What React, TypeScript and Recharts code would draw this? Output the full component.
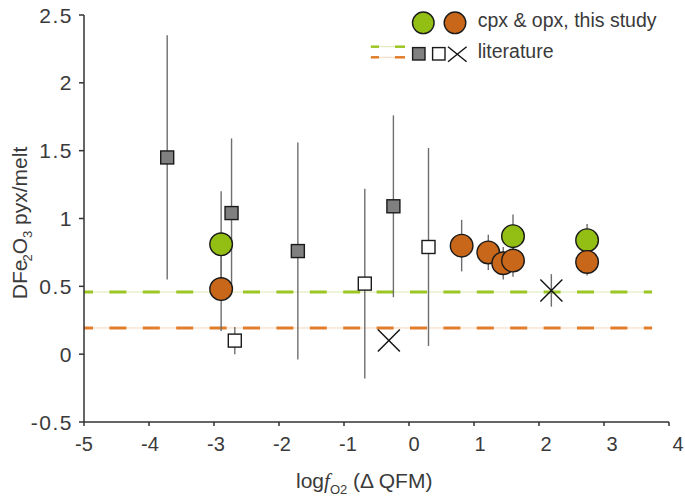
import React from "react"
import {
    ScatterChart,
    Scatter,
    XAxis,
    YAxis,
    ErrorBar,
    ReferenceLine,
    Customized,
} from "recharts"

// cpx, this study
const cpxX = [-2.89, 1.6, 2.74]
const cpxY = [0.81, 0.87, 0.84]
const cpxErr = [0.39, 0.16, 0.12]

// opx, this study
const opxX = [-2.89, 0.81, 1.22, 1.45, 1.6, 2.74]
const opxY = [0.48, 0.8, 0.75, 0.67, 0.69, 0.68]
const opxErr = [0.31, 0.19, 0.13, 0.12, 0.12, 0.1]

// literature, grey squares
const litGrayX = [-3.72, -2.73, -1.71, -0.24]
const litGrayY = [1.45, 1.04, 0.76, 1.09]
const litGrayErr = [0.9, 0.55, 0.8, 0.67]

// literature, open squares
const litWhiteX = [-2.68, -0.68, 0.3]
const litWhiteY = [0.1, 0.52, 0.79]
const litWhiteErr = [0.1, 0.7, 0.73]

// literature, crosses
const litCrossX = [-0.31, 2.19]
const litCrossY = [0.1, 0.47]
const litCrossErr = [0, 0.12]

// literature averages (dashed lines)
const cpxLitAvg = 0.458
const opxLitAvg = 0.193
const avgLineEnd = 3.74

const xTicks = [-5, -4, -3, -2, -1, 0, 1, 2, 3, 4]
const yTicks = [-0.5, 0, 0.5, 1, 1.5, 2, 2.5]

const GREEN = "#93be14"
const ORANGE = "#c8661a"
const GREEN_DASH = "#9cc624"
const ORANGE_DASH = "#e27d2c"
const GREEN_FAINT = "#dcebb2"
const ORANGE_FAINT = "#f6d5b8"
const TEXT = "#3a3a3a"
const FONT = "'Liberation Sans', Arial, Helvetica, sans-serif"

const toPoints = (xs: number[], ys: number[], errs: number[]) =>
    xs.map((x, i) => ({ x, y: ys[i], err: errs[i] }))

const cpxData = toPoints(cpxX, cpxY, cpxErr)
const opxData = toPoints(opxX, opxY, opxErr)
const grayData = toPoints(litGrayX, litGrayY, litGrayErr)
const whiteData = toPoints(litWhiteX, litWhiteY, litWhiteErr)
const crossData = toPoints(litCrossX, litCrossY, litCrossErr)
const errorData = [...grayData, ...whiteData, ...crossData, ...cpxData, ...opxData].filter(
    (d) => d.err > 0
)

const circleShape = (fill: string) => (props: any) =>
    <circle cx={props.cx} cy={props.cy} r={11.3} fill={fill} stroke="#1a1a1a" strokeWidth={1.4} />

const squareShape = (fill: string) => (props: any) =>
    <rect x={props.cx - 6.5} y={props.cy - 6.5} width={13} height={13} fill={fill} stroke="#1a1a1a" strokeWidth={1.4} />

const crossShape = (props: any) => (
    <g stroke="#111" strokeWidth={1.4}>
        <line x1={props.cx - 11} y1={props.cy - 11} x2={props.cx + 11} y2={props.cy + 11} />
        <line x1={props.cx - 11} y1={props.cy + 11} x2={props.cx + 11} y2={props.cy - 11} />
    </g>
)

const noShape = () => <g />

// the original figure's x labels creep a little to the right of their ticks
const XTick = (props: any) => {
    const { x, y, payload } = props
    const drift = (payload.value + 5) * 1.0
    return (
        <text x={x + drift} y={y} dy="0.71em" textAnchor="middle" fontSize={20} fill={TEXT} fontFamily={FONT}>
            {payload.value}
        </text>
    )
}

const YTick = (props: any) => {
    const { x, y, payload } = props
    return (
        <text x={x} y={y} dy="0.36em" textAnchor="end" fontSize={21} letterSpacing={1.5} fill={TEXT} fontFamily={FONT}>
            {payload.value}
        </text>
    )
}

function Decorations() {
    return (
        <g fontFamily={FONT} fill={TEXT}>
            {/* legend */}
            <circle cx={423.3} cy={22.8} r={10.8} fill={GREEN} stroke="#1a1a1a" strokeWidth={1.4} />
            <circle cx={455} cy={22.8} r={10.8} fill={ORANGE} stroke="#1a1a1a" strokeWidth={1.4} />
            <text x={477.7} y={26.7} fontSize={19.5}>cpx &amp; opx, this study</text>

            <line x1={370} y1={46.7} x2={405} y2={46.7} stroke={GREEN_FAINT} strokeWidth={1} />
            <line x1={371} y1={46.7} x2={379} y2={46.7} stroke={GREEN_DASH} strokeWidth={2.5} />
            <line x1={395} y1={46.7} x2={405} y2={46.7} stroke={GREEN_DASH} strokeWidth={2.5} />
            <line x1={370} y1={57.3} x2={405} y2={57.3} stroke={ORANGE_FAINT} strokeWidth={1} />
            <line x1={371} y1={57.3} x2={379} y2={57.3} stroke={ORANGE_DASH} strokeWidth={2.5} />
            <line x1={395} y1={57.3} x2={405} y2={57.3} stroke={ORANGE_DASH} strokeWidth={2.5} />
            <rect x={412.6} y={47.6} width={12.4} height={12.4} fill="#808080" stroke="#1a1a1a" strokeWidth={1.4} />
            <rect x={432.6} y={47.6} width={12.4} height={12.4} fill="#fff" stroke="#1a1a1a" strokeWidth={1.4} />
            <g stroke="#111" strokeWidth={1.4}>
                <line x1={448} y1={46.7} x2={466.6} y2={61.7} />
                <line x1={448} y1={61.7} x2={466.6} y2={46.7} />
            </g>
            <text x={477.7} y={58.3} fontSize={19.5}>literature</text>

            {/* y axis title */}
            <text transform="translate(27, 223) rotate(-90)" textAnchor="middle" fontSize={21}>
                DFe
                <tspan dx={-2} dy={5} fontSize={13}>2</tspan>
                <tspan dy={-5}>O</tspan>
                <tspan dy={5} fontSize={13}>3</tspan>
                <tspan dy={-5}> pyx/melt</tspan>
            </text>

            {/* x axis title */}
            <text x={296} y={488} fontSize={21}>
                log
                <tspan fontFamily="'Liberation Serif', serif" fontStyle="italic">f</tspan>
                <tspan dy={6} fontSize={13}>O2</tspan>
                <tspan dy={-6}> (Δ QFM)</tspan>
            </text>
        </g>
    )
}

export default function App() {
    return (
        <div style={{ position: "absolute", left: 0, top: 0, background: "#fff" }}>
            <ScatterChart
                width={685}
                height={499}
                margin={{ top: 15, right: 16, bottom: 0, left: 0 }}
            >
                <XAxis
                    type="number"
                    dataKey="x"
                    domain={[-5, 4]}
                    ticks={xTicks}
                    height={77}
                    stroke="#333"
                    strokeWidth={1.5}
                    tickSize={4}
                    tickMargin={11}
                    tick={<XTick />}
                />
                <YAxis
                    type="number"
                    dataKey="y"
                    domain={[-0.5, 2.5]}
                    ticks={yTicks}
                    width={84}
                    stroke="#333"
                    strokeWidth={1.5}
                    tickSize={5}
                    tickMargin={6}
                    tick={<YTick />}
                />
                <ReferenceLine
                    segment={[{ x: -5, y: cpxLitAvg }, { x: avgLineEnd, y: cpxLitAvg }]}
                    stroke={GREEN_FAINT}
                    strokeWidth={1}
                />
                <ReferenceLine
                    segment={[{ x: -5, y: cpxLitAvg }, { x: avgLineEnd, y: cpxLitAvg }]}
                    stroke={GREEN_DASH}
                    strokeWidth={3}
                    strokeDasharray="17 16.4"
                    strokeDashoffset={8}
                />
                <ReferenceLine
                    segment={[{ x: -5, y: opxLitAvg }, { x: avgLineEnd, y: opxLitAvg }]}
                    stroke={ORANGE_FAINT}
                    strokeWidth={1}
                />
                <ReferenceLine
                    segment={[{ x: -5, y: opxLitAvg }, { x: avgLineEnd, y: opxLitAvg }]}
                    stroke={ORANGE_DASH}
                    strokeWidth={3}
                    strokeDasharray="17 16.4"
                    strokeDashoffset={8}
                />
                <Scatter data={errorData} shape={noShape} isAnimationActive={false}>
                    <ErrorBar dataKey="err" direction="y" width={0} stroke="#6e6e6e" strokeWidth={1.4} />
                </Scatter>
                <Scatter data={grayData} shape={squareShape("#808080")} isAnimationActive={false} />
                <Scatter data={whiteData} shape={squareShape("#ffffff")} isAnimationActive={false} />
                <Scatter data={crossData} shape={crossShape} isAnimationActive={false} />
                <Scatter data={cpxData} shape={circleShape(GREEN)} isAnimationActive={false} />
                <Scatter data={opxData} shape={circleShape(ORANGE)} isAnimationActive={false} />
                <Customized component={<Decorations />} />
            </ScatterChart>
        </div>
    )
}
